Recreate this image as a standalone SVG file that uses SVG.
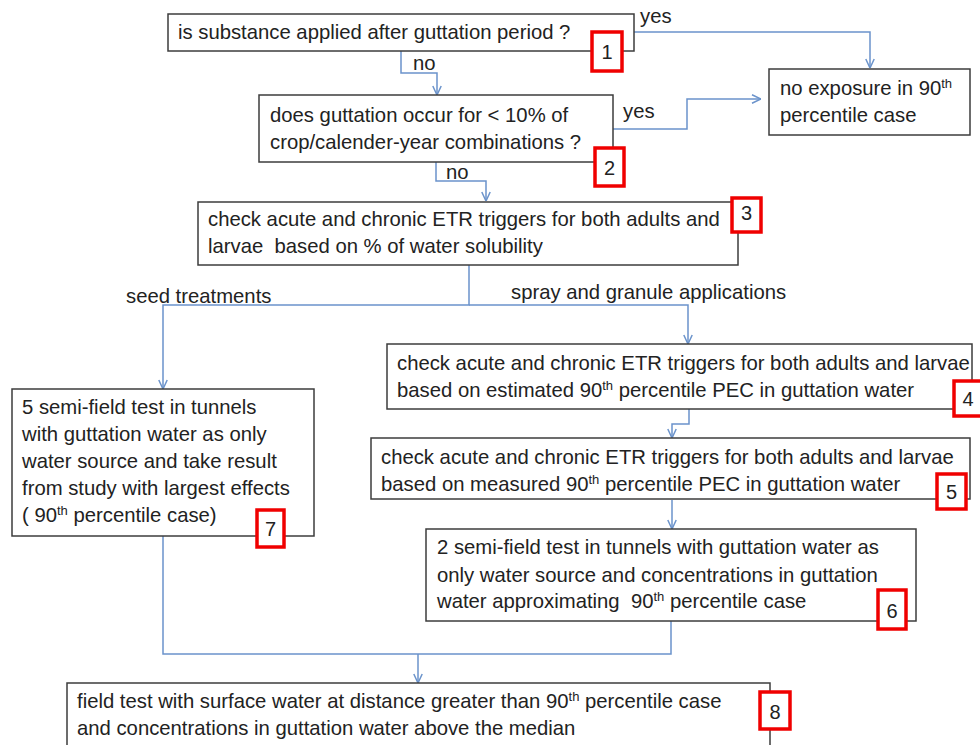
<svg xmlns="http://www.w3.org/2000/svg" width="980" height="745" viewBox="0 0 980 745">
<style>
.box{fill:#fff;stroke:#3c3c3c;stroke-width:1.5}
.badge{fill:#fff;stroke:#f00000;stroke-width:3.5}
.t{font-family:"Liberation Sans",Arial,sans-serif;font-size:20.3px;fill:#222;white-space:pre}
.n{font-family:"Liberation Sans",Arial,sans-serif;font-size:20px;fill:#222;text-anchor:middle}
.c{fill:none;stroke:#6b93cb;stroke-width:1.5}
.s{font-size:13px}
</style>
<defs>
<marker id="arr" viewBox="0 0 10 10" refX="10" refY="5" markerWidth="10" markerHeight="10" orient="auto" markerUnits="userSpaceOnUse">
<path d="M1,0.8 L10,5 L1,9.2" fill="none" stroke="#6b93cb" stroke-width="1.5"/>
</marker>
</defs>
<rect width="980" height="745" fill="#fff"/>
<g id="connectors">
<path class="c" d="M634,32 H870 V68" marker-end="url(#arr)"/>
<path class="c" d="M401,51 V73 H437 V95" marker-end="url(#arr)"/>
<path class="c" d="M613,129 H687 V99 H761" marker-end="url(#arr)"/>
<path class="c" d="M436,162 V181 H486 V201" marker-end="url(#arr)"/>
<path class="c" d="M469,265 V305 H163 V389" marker-end="url(#arr)"/>
<path class="c" d="M469,305 H688 V344" marker-end="url(#arr)"/>
<path class="c" d="M689,409 V424 H672 V438" marker-end="url(#arr)"/>
<path class="c" d="M672,500 V529" marker-end="url(#arr)"/>
<path class="c" d="M163,536 V654 H671 V621"/>
<path class="c" d="M418,654 V683" marker-end="url(#arr)"/>
<text class="t" x="640" y="23">yes</text>
<text class="t" x="413" y="70">no</text>
<text class="t" x="623" y="118">yes</text>
<text class="t" x="446" y="179">no</text>
<text class="t" x="126" y="303">seed treatments</text>
<text class="t" x="511" y="299">spray and granule applications</text>
</g>
<g id="node1">
<rect class="box" x="168" y="14" width="466" height="37"/>
<text class="t" x="178" y="39">is substance applied after guttation period ?</text>
<rect class="badge" x="592" y="32" width="30" height="39"/>
<text class="n" x="607" y="59">1</text>
</g>
<g id="node-noexp">
<rect class="box" x="769" y="69" width="201" height="66"/>
<text class="t" x="780" y="95">no exposure in 90<tspan class="s" dy="-7">th</tspan></text>
<text class="t" x="780" y="122">percentile case</text>
</g>
<g id="node2">
<rect class="box" x="259" y="95" width="354" height="67"/>
<text class="t" x="270" y="122">does guttation occur for &lt; 10% of</text>
<text class="t" x="270" y="149">crop/calender-year combinations ?</text>
<rect class="badge" x="595" y="148" width="29" height="38"/>
<text class="n" x="609.5" y="175">2</text>
</g>
<g id="node3">
<rect class="box" x="198" y="202" width="540" height="63"/>
<text class="t" x="208" y="226">check acute and chronic ETR triggers for both adults and</text>
<text class="t" x="208" y="253">larvae  based on % of water solubility</text>
<rect class="badge" x="732" y="198" width="29" height="34"/>
<text class="n" x="746.5" y="220">3</text>
</g>
<g id="node4">
<rect class="box" x="387" y="344" width="585" height="65"/>
<text class="t" x="397" y="370">check acute and chronic ETR triggers for both adults and larvae</text>
<text class="t" x="397" y="397">based on estimated 90<tspan class="s" dy="-7">th</tspan><tspan dy="7"> percentile PEC in guttation water</tspan></text>
<rect class="badge" x="954" y="381" width="30" height="35"/>
<text class="n" x="968" y="406">4</text>
</g>
<g id="node5">
<rect class="box" x="371" y="438" width="599" height="61"/>
<text class="t" x="381" y="464">check acute and chronic ETR triggers for both adults and larvae</text>
<text class="t" x="381" y="491">based on measured 90<tspan class="s" dy="-7">th</tspan><tspan dy="7"> percentile PEC in guttation water</tspan></text>
<rect class="badge" x="937" y="474" width="29" height="35"/>
<text class="n" x="951.5" y="499">5</text>
</g>
<g id="node6">
<rect class="box" x="426" y="529" width="490" height="92"/>
<text class="t" x="437" y="554">2 semi-field test in tunnels with guttation water as</text>
<text class="t" x="437" y="582">only water source and concentrations in guttation</text>
<text class="t" x="437" y="608">water approximating  90<tspan class="s" dy="-7">th</tspan><tspan dy="7"> percentile case</tspan></text>
<rect class="badge" x="878" y="590" width="28" height="39"/>
<text class="n" x="892" y="618">6</text>
</g>
<g id="node7">
<rect class="box" x="12" y="389" width="302" height="147"/>
<text class="t" x="22" y="414">5 semi-field test in tunnels</text>
<text class="t" x="22" y="441">with guttation water as only</text>
<text class="t" x="22" y="468">water source and take result</text>
<text class="t" x="22" y="495">from study with largest effects</text>
<text class="t" x="22" y="522">( 90<tspan class="s" dy="-7">th</tspan><tspan dy="7"> percentile case)</tspan></text>
<rect class="badge" x="257" y="510" width="27" height="37"/>
<text class="n" x="270.5" y="536">7</text>
</g>
<g id="node8">
<rect class="box" x="67" y="683" width="703" height="70"/>
<text class="t" x="77" y="708">field test with surface water at distance greater than 90<tspan class="s" dy="-7">th</tspan><tspan dy="7"> percentile case</tspan></text>
<text class="t" x="77" y="735">and concentrations in guttation water above the median</text>
<rect class="badge" x="760" y="692" width="30" height="37"/>
<text class="n" x="775" y="719">8</text>
</g>
</svg>
